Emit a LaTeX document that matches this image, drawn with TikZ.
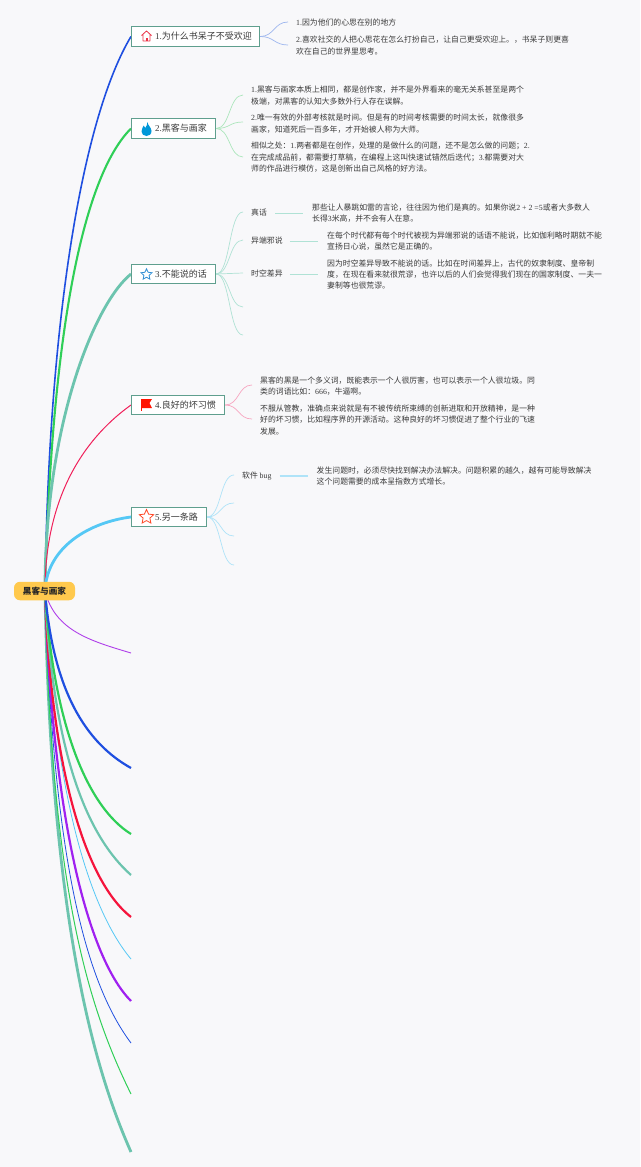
\documentclass[tikz,border=0pt]{standalone}
\usepackage{fontspec}
\setmainfont{Noto Sans CJK SC}
\newfontfamily\ltnfont{Liberation Serif}
\newcommand{\dg}[1]{{\ltnfont #1}}
\usetikzlibrary{shapes.geometric}
\definecolor{bgc}{HTML}{F8F8FA}
\definecolor{boxc}{HTML}{5F9F8E}
\definecolor{txtc}{HTML}{3A3A3A}
\definecolor{rootc}{HTML}{FFC94D}
\definecolor{cblue}{HTML}{1F4FE0}
\definecolor{cgreen}{HTML}{2FCF57}
\definecolor{cteal}{HTML}{6CC4AE}
\definecolor{cred}{HTML}{F0205A}
\definecolor{ccyan}{HTML}{55C8F5}
\definecolor{cpurple}{HTML}{B040EA}
\definecolor{cvio}{HTML}{A020F0}
\definecolor{cscarlet}{HTML}{F5143C}
\definecolor{tw1}{HTML}{9DB6EE}
\definecolor{tw2}{HTML}{ACE6BC}
\definecolor{tw3}{HTML}{B0E2D5}
\definecolor{tw4}{HTML}{F7A6C0}
\definecolor{tw5}{HTML}{AFE3F8}
\tikzset{
  branchbox/.style={draw=boxc,line width=1.2pt,fill=white,rectangle,inner sep=0pt,minimum height=19.5pt,anchor=west},
  boxlabel/.style={anchor=west,inner sep=0pt,text=txtc,font=\fontsize{9}{11}\selectfont},
  note/.style={anchor=west,inner sep=0pt,align=left,text=txtc,font=\fontsize{7.85}{11.4}\selectfont},
  tag/.style={anchor=west,inner sep=0pt,text=txtc,font=\fontsize{7.85}{11.4}\selectfont},
  twig/.style={line width=.7pt},
}
\begin{document}
\begin{tikzpicture}[x=1pt,y=-1pt]
\useasboundingbox (0,0) rectangle (640,1167);
\fill[bgc] (0,0) rectangle (640,1167);

% anchors
\coordinate (e1) at (131,653);
\coordinate (e2) at (131,768);
\coordinate (e3) at (131,834);
\coordinate (e4) at (131,875);
\coordinate (e5) at (131,917);
\coordinate (e6) at (131,959);
\coordinate (e7) at (131,1001);
\coordinate (e8) at (131,1043);
\coordinate (e9) at (131,1094);
\coordinate (e10) at (131,1152);
\coordinate (c0) at (45,591);
\coordinate (b1w) at (131,36.5);
\coordinate (b2w) at (131,128.5);
\coordinate (b3w) at (131,274);
\coordinate (b4w) at (131,405);
\coordinate (b5w) at (131,517);

% main connectors
\draw[cblue,line width=1.6pt] (c0) .. controls +(4,-290) and +(-45,75) .. (b1w);
\draw[cgreen,line width=2.1pt] (c0) .. controls +(7,-270) and +(-46,46) .. (b2w);
\draw[cteal,line width=2.8pt] (c0) .. controls +(0,-170) and +(-35,28) .. (b3w);
\draw[cred,line width=1pt] (c0) .. controls +(0,-100) and +(-42,30) .. (b4w);
\draw[ccyan,line width=2.8pt] (c0) .. controls +(2,-45) and +(-40,5) .. (b5w);

\draw[cteal,line width=2.8pt] (c0) .. controls +(6,320) and +(-40,-90) .. (e10);
\draw[cgreen,line width=1pt] (c0) .. controls +(6,300) and +(-42,-85) .. (e9);
\draw[cblue,line width=.8pt] (c0) .. controls +(8,270) and +(-45,-60) .. (e8);
\draw[cvio,line width=2.2pt] (c0) .. controls +(8,240) and +(-40,-40) .. (e7);
\draw[ccyan,line width=.8pt] (c0) .. controls +(8,200) and +(-42,-50) .. (e6);
\draw[cscarlet,line width=2.2pt] (c0) .. controls +(6,180) and +(-45,-35) .. (e5);
\draw[cteal,line width=2.2pt] (c0) .. controls +(8,160) and +(-45,-40) .. (e4);
\draw[cgreen,line width=2.2pt] (c0) .. controls +(8,130) and +(-45,-28) .. (e3);
\draw[cblue,line width=2.2pt] (c0) .. controls +(8,100) and +(-45,-25) .. (e2);
\draw[cpurple,line width=.9pt] (c0) .. controls +(10,40) and +(-40,-12) .. (e1);

% root
\node[fill=rootc,rounded corners=6pt,inner sep=0pt,minimum width=61pt,minimum height=18.5pt,font=\fontsize{8.6}{10}\selectfont\bfseries,text=black!85] (root) at (44.5,591) {黑客与画家};

% branch boxes
\node[branchbox,minimum width=128pt] (b1) at (131,36.5) {};
\node[branchbox,minimum width=84pt] (b2) at (131,128.5) {};
\node[branchbox,minimum width=84pt] (b3) at (131,274) {};
\node[branchbox,minimum width=93pt] (b4) at (131,405) {};
\node[branchbox,minimum width=75pt] (b5) at (131,517) {};
\node[boxlabel] (l1) at (155,36.5) {\dg{1.}为什么书呆子不受欢迎};
\node[boxlabel] (l2) at (155,128.5) {\dg{2.}黑客与画家};
\node[boxlabel] (l3) at (155,274) {\dg{3.}不能说的话};
\node[boxlabel] (l4) at (155,405) {\dg{4.}良好的坏习惯};
\node[boxlabel] (l5) at (155,517) {\dg{5.}另一条路};

% icons
\draw[draw=red!60!purple!80!white,line width=.8pt,line join=round] (141.5,35.5) -- (146.5,31) -- (151.5,35.5) (143,34.5) -- (143,41) -- (150,41) -- (150,34.5);
\fill[red!60!purple!80!white] (145.5,37.5) rectangle (147.5,41);
\fill[blue!30!cyan!85!black] (147.5,122) .. controls (147.5,125) and (151.5,127.5) .. (151.5,131) .. controls (151.5,134.5) and (149,136) .. (146.5,136) .. controls (143.5,136) and (141.5,134) .. (141.5,131.5) .. controls (141.5,129) and (143,127.5) .. (143.7,125.5) .. controls (144.5,126.5) and (145,127) .. (145.2,128) .. controls (146.3,126.5) and (147.5,124.5) .. (147.5,122);
\node[star,star points=5,star point ratio=2.1,draw=cyan!65!blue!85!white,line width=.8pt,inner sep=0pt,minimum size=11.5pt] (i3) at (146.5,274.5) {};
\draw[red!85!orange,line width=.7pt] (141.5,399) -- (141.5,411);
\fill[red!85!orange] (141.5,399) -- (152,399) -- (149.5,403) -- (152,408) -- (141.5,408) -- cycle;
\node[star,star points=5,star point ratio=2.1,draw=red!70!orange!85!white,line width=.8pt,inner sep=0pt,minimum size=15pt] (i5) at (146.5,517) {};

% level-2 text
\node[note] (t11) at (296,23) {\dg{1.}因为他们的心思在别的地方};
\node[note] (t12) at (296,45.5) {\dg{2.}喜欢社交的人把心思花在怎么打扮自己，让自己更受欢迎上。，书呆子则更喜\\欢在自己的世界里思考。};
\node[note] (t21) at (251,95.7) {\dg{1.}黑客与画家本质上相同，都是创作家，并不是外界看来的毫无关系甚至是两个\\极端，对黑客的认知大多数外行人存在误解。};
\node[note] (t22) at (251,123.7) {\dg{2.}唯一有效的外部考核就是时间。但是有的时间考核需要的时间太长，就像很多\\画家，知道死后一百多年，才开始被人称为大师。};
\node[note] (t23) at (251,157.5) {相似之处：\dg{1.}两者都是在创作，处理的是做什么的问题，还不是怎么做的问题；\dg{2.}\\在完成成品前，都需要打草稿，在编程上这叫快速试错然后迭代；\dg{3.}都需要对大\\师的作品进行模仿，这是创新出自己风格的好方法。};
\node[tag] (t31) at (251,213) {真话};
\node[tag] (t32) at (251,241) {异端邪说};
\node[tag] (t33) at (251,274) {时空差异};
\node[note] (t311) at (312,213) {那些让人暴跳如雷的言论，往往因为他们是真的。如果你说\dg{2 + 2 =5}或者大多数人\\长得\dg{3}米高，并不会有人在意。};
\node[note] (t321) at (327,241) {在每个时代都有每个时代被视为异端邪说的话语不能说，比如伽利略时期就不能\\宣扬日心说，虽然它是正确的。};
\node[note] (t331) at (327,274.5) {因为时空差异导致不能说的话。比如在时间差异上，古代的奴隶制度、皇帝制\\度，在现在看来就很荒谬，也许以后的人们会觉得我们现在的国家制度、一夫一\\妻制等也很荒谬。};
\node[note] (t41) at (260,386.3) {黑客的黑是一个多义词，既能表示一个人很厉害，也可以表示一个人很垃圾。同\\类的词语比如：\dg{666}，牛逼啊。};
\node[note] (t42) at (260,420) {不服从管教，准确点来说就是有不被传统所束缚的创新进取和开放精神，是一种\\好的坏习惯，比如程序界的开源活动。这种良好的坏习惯促进了整个行业的飞速\\发展。};
\node[tag] (t51) at (242,476) {软件 \dg{bug}};
\node[note] (t511) at (316.5,476) {发生问题时，必须尽快找到解决办法解决。问题积累的越久，越有可能导致解决\\这个问题需要的成本呈指数方式增长。};

% sub-branch ends
\coordinate (s11) at (288,22);
\coordinate (s12) at (288,45);
\coordinate (s21) at (243,95);
\coordinate (s22) at (243,122);
\coordinate (s23) at (243,157);
\coordinate (s31) at (243,212);
\coordinate (s32) at (243,240);
\coordinate (s33) at (243,273);
\coordinate (s34) at (243,307);
\coordinate (s35) at (243,335);
\coordinate (s41) at (252,385);
\coordinate (s42) at (252,419);
\coordinate (s51) at (234,475);
\coordinate (s52) at (234,503);
\coordinate (s53) at (234,536);
\coordinate (s54) at (234,565);

\foreach \e in {s11,s12} \draw[twig,draw=tw1] (b1.east) .. controls +(14,0) and +(-14,0) .. (\e);
\foreach \e in {s21,s22,s23} \draw[twig,draw=tw2] (b2.east) .. controls +(14,0) and +(-14,0) .. (\e);
\foreach \e in {s31,s32,s33,s34,s35} \draw[twig,draw=tw3] (b3.east) .. controls +(14,0) and +(-14,0) .. (\e);
\foreach \e in {s41,s42} \draw[twig,draw=tw4] (b4.east) .. controls +(14,0) and +(-14,0) .. (\e);
\foreach \e in {s51,s52,s53,s54} \draw[twig,draw=tw5] (b5.east) .. controls +(14,0) and +(-14,0) .. (\e);

\draw[draw=tw3,line width=.9pt] ([xshift=8pt]t31.east) -- ([xshift=-9pt]t311.west |- t31.east);
\draw[draw=tw3,line width=.9pt] ([xshift=7pt]t32.east) -- ([xshift=-9pt]t321.west |- t32.east);
\draw[draw=tw3,line width=.9pt] ([xshift=7pt]t33.east) -- ([xshift=-9pt]t331.west |- t33.east);
\draw[draw=tw5,line width=1.1pt] ([xshift=8pt]t51.east) -- ([xshift=-8.5pt]t511.west |- t51.east);
\end{tikzpicture}
\end{document}
